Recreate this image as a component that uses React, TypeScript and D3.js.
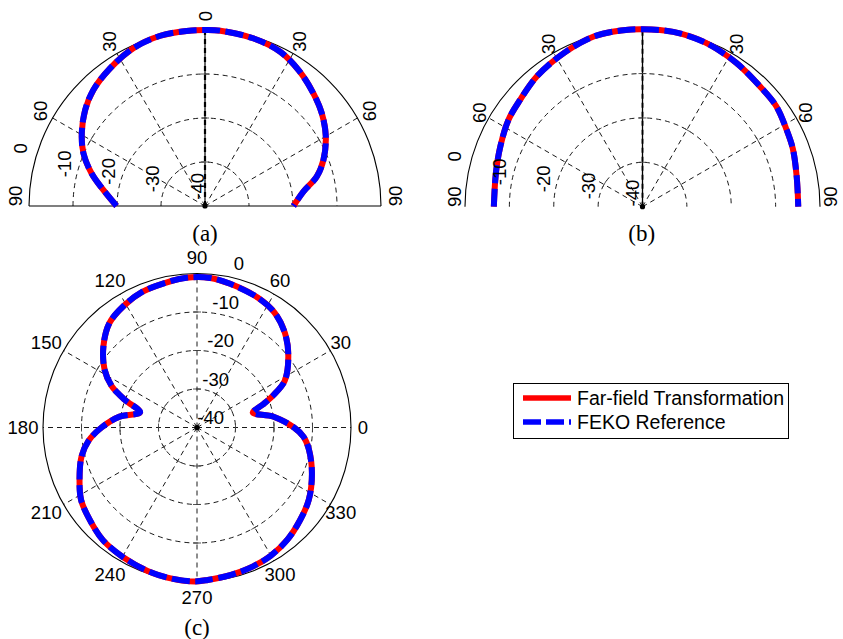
import React from 'react';
import * as d3 from 'd3';

const W = 843;
const H = 639;
const FONT = '"Liberation Sans", Arial, Helvetica, sans-serif';
const SERIF = '"Liberation Serif", "Times New Roman", serif';

// radial (dB) ticks
const rTicks = [-40, -30, -20, -10, 0];
const rTickLabels = ['-40', '-30', '-20', '-10', '0'];

// half-plane angle ticks (degrees from broadside, negative = left)
const halfTicks = [-90, -60, -30, 0, 30, 60, 90];
const halfTickLabels = ['90', '60', '30', '0', '30', '60', '90'];

// full-circle angle ticks
const fullTicks = [0, 30, 60, 90, 120, 150, 180, 210, 240, 270, 300, 330];
const fullTickLabels = ['0', '30', '60', '90', '120', '150', '180', '210', '240', '270', '300', '330'];

// panel (a) pattern
const aAngles = [-90, -81, -74, -66.6, -59.5, -51.3, -43.9, -34.6, -24.4, -14.7, -6, 0, 5, 16, 26, 35, 44, 51.5, 60, 68.7, 75.3, 81.7, 90];
const aValues = [-19.9, -16.6, -13.2, -9.9, -7.5, -5.1, -3.4, -2.0, -0.6, 0, 0, 0, 0, -0.35, -1.0, -2.6, -4.5, -6.1, -8.3, -11.1, -13.75, -17.4, -19.9];

// panel (b) pattern
const bAngles = [-90, -77, -67, -57, -49, -39, -27, -16, -7, 0, 10, 21, 33, 44, 53, 62, 69, 79, 90];
const bValues = [-6.5, -6.1, -5.2, -4.0, -3.4, -2.2, -1.1, -0.1, 0, 0, 0, -0.4, -1.3, -2.1, -2.3, -3.2, -3.7, -4.6, -4.9];

// panel (c) pattern (degrees, counter-clockwise from east)
const cAngles = [0, 8, 15, 19, 23, 28, 38, 47, 56, 65, 77, 85, 94, 102, 112, 121, 130, 139, 148, 154, 159, 165, 172, 180, 187, 194, 204, 212, 221, 230, 240, 251, 261, 269, 274, 283, 292, 300, 309, 318, 327, 338, 349, 355];
const cValues = [-14.8, -19.9, -25.0, -22.1, -18.4, -14.2, -9.9, -6.5, -4.0, -2.75, -1.7, -1.0, -1.0, -1.5, -2.0, -3.1, -4.6, -7.8, -11.7, -15.3, -19.9, -24.7, -19.7, -15.2, -11.6, -9.1, -6.6, -4.5, -3.2, -1.9, -1.25, -0.6, -0.2, 0, -0.3, -0.7, -1.1, -1.6, -2.6, -4.0, -5.4, -7.8, -10.4, -12.2];

const seriesNames = ['Far-field Transformation', 'FEKO Reference'];
const seriesColors = ['#ff0000', '#0000ff'];
const captions = ['(a)', '(b)', '(c)'];

const LW = 6;
const DASH = '18 5.5';
const GRID_DASH = '5 4';
const rad = (d: number) => (d * Math.PI) / 180;

type HalfProps = {
  cx: number; cy: number; R: number;
  angles: number[]; values: number[];
  showZero: boolean; baseline: boolean; thickAxis: boolean;
  lblR: number; rlX: number; rlY0: number; rlK: number;
  caption: string; capX: number; capY: number;
};

function HalfPolar(p: HalfProps) {
  const { cx, cy, R } = p;
  const r = d3.scaleLinear().domain([-40, 0]).range([0, R]);
  const pt = (deg: number, rr: number) => [cx + rr * Math.sin(rad(deg)), cy - rr * Math.cos(rad(deg))];
  const data = p.angles.map((a, i) => ({ a, v: p.values[i] }));
  const line = d3.lineRadial<{ a: number; v: number }>()
    .angle((d) => rad(d.a))
    .radius((d) => r(d.v))
    .curve(d3.curveCatmullRom.alpha(0.5));
  const d = line(data) || '';
  const halfArc = (rr: number) => {
    const pa = d3.path();
    pa.arc(cx, cy, rr, Math.PI, 2 * Math.PI, false);
    return pa.toString();
  };
  const spokes = halfTicks.filter((t) => Math.abs(t) < 90);
  return (
    <g>
      {rTicks.slice(1, -1).map((t) => (
        <path key={'ring' + t} d={halfArc(r(t))} fill="none" stroke="#000" strokeWidth={0.9} strokeDasharray={GRID_DASH} />
      ))}
      <path d={halfArc(r(0))} fill="none" stroke="#000" strokeWidth={1.1} />
      {p.baseline && <line x1={cx - R} x2={cx + R} y1={cy} y2={cy} stroke="#000" strokeWidth={1.1} />}
      {spokes.map((t) => {
        const [x2, y2] = pt(t, R);
        if (t === 0) {
          return (
            <g key={'sp' + t}>
              <line x1={cx} y1={cy} x2={x2} y2={y2} stroke="#000" strokeWidth={p.thickAxis ? 1.2 : 1.3} />
              <line x1={cx} y1={cy} x2={x2} y2={y2} stroke="#000" strokeWidth={p.thickAxis ? 2.2 : 1.8} strokeDasharray={GRID_DASH} />
            </g>
          );
        }
        return <line key={'sp' + t} x1={cx} y1={cy} x2={x2} y2={y2} stroke="#000" strokeWidth={0.9} strokeDasharray={GRID_DASH} />;
      })}
      {spokes.map((t) =>
        rTicks.slice(1, -1).map((v) => {
          const [x, y] = pt(t, r(v));
          const ux = Math.cos(rad(t)) * 4, uy = Math.sin(rad(t)) * 4;
          return <line key={'tk' + t + v} x1={x - ux} y1={y - uy} x2={x + ux} y2={y + uy} stroke="#444" strokeWidth={0.9} />;
        })
      )}
      <g transform={`translate(${cx},${cy})`}>
        <path d={d} fill="none" stroke={seriesColors[0]} strokeWidth={LW} />
        <path d={d} fill="none" stroke={seriesColors[1]} strokeWidth={LW} strokeDasharray={DASH} />
      </g>
      <circle cx={cx} cy={cy} r={2.6} fill="#000" />
      {halfTicks.map((t, i) => {
        if (t === 0 && !p.showZero) return null;
        let [x, y] = pt(t, p.lblR);
        y = Math.min(y, cy - 10);
        return (
          <text key={'al' + i} x={x} y={y} transform={`rotate(-90 ${x} ${y})`} textAnchor="middle" dominantBaseline="central" fontFamily={FONT} fontSize={18.5}>
            {halfTickLabels[i]}
          </text>
        );
      })}
      {rTicks.map((v, i) => {
        const rv = r(v);
        const x = cx - (rv + p.rlX);
        const y = cy - (p.rlY0 + p.rlK * rv);
        return (
          <text key={'rl' + i} x={x} y={y} transform={`rotate(-90 ${x} ${y})`} textAnchor="end" dominantBaseline="central" fontFamily={FONT} fontSize={18.5}>
            {rTickLabels[i]}
          </text>
        );
      })}
      <text x={p.capX} y={p.capY} textAnchor="middle" dominantBaseline="central" fontFamily={SERIF} fontSize={23}>
        {p.caption}
      </text>
    </g>
  );
}

function FullPolar() {
  const cx = 197, cy = 427.5, R = 154;
  const r = d3.scaleLinear().domain([-40, 0]).range([0, R]);
  const pt = (deg: number, rr: number) => [cx + rr * Math.cos(rad(deg)), cy - rr * Math.sin(rad(deg))];
  const data = cAngles.map((a, i) => ({ a, v: cValues[i] }));
  const line = d3.lineRadial<{ a: number; v: number }>()
    .angle((d) => Math.PI / 2 - rad(d.a))
    .radius((d) => r(d.v))
    .curve(d3.curveCatmullRomClosed.alpha(0.5));
  const d = line(data) || '';
  return (
    <g>
      {rTicks.slice(1, -1).map((t) => (
        <circle key={'ring' + t} cx={cx} cy={cy} r={r(t)} fill="none" stroke="#000" strokeWidth={0.9} strokeDasharray={GRID_DASH} />
      ))}
      <circle cx={cx} cy={cy} r={R} fill="none" stroke="#000" strokeWidth={1.1} />
      {fullTicks.map((t) => {
        const [x2, y2] = pt(t, R);
        return <line key={'sp' + t} x1={cx} y1={cy} x2={x2} y2={y2} stroke="#000" strokeWidth={0.9} strokeDasharray={GRID_DASH} />;
      })}
      {fullTicks.map((t) =>
        rTicks.slice(1, -1).map((v) => {
          const [x, y] = pt(t, r(v));
          const ux = Math.sin(rad(t)) * 4, uy = Math.cos(rad(t)) * 4;
          return <line key={'tk' + t + v} x1={x - ux} y1={y - uy} x2={x + ux} y2={y + uy} stroke="#444" strokeWidth={0.9} />;
        })
      )}
      <g transform={`translate(${cx},${cy})`}>
        <path d={d} fill="none" stroke={seriesColors[0]} strokeWidth={LW} />
        <path d={d} fill="none" stroke={seriesColors[1]} strokeWidth={LW} strokeDasharray={DASH} />
      </g>
      <circle cx={cx} cy={cy} r={2.6} fill="#000" />
      {fullTicks.map((t, i) => {
        const [x0, y] = pt(t, 170);
        const x = x0 - 4 * Math.abs(Math.cos(rad(t)));
        return (
          <text key={'al' + i} x={x} y={y} textAnchor="middle" dominantBaseline="central" fontFamily={FONT} fontSize={18.5}>
            {fullTickLabels[i]}
          </text>
        );
      })}
      {rTicks.map((v, i) => {
        const rv = r(v);
        return (
          <text key={'rl' + i} x={cx + 27 + 0.13 * rv} y={cy - (rv + 10)} textAnchor="end" dominantBaseline="central" fontFamily={FONT} fontSize={18.5}>
            {rTickLabels[i]}
          </text>
        );
      })}
      <text x={197} y={627} textAnchor="middle" dominantBaseline="central" fontFamily={SERIF} fontSize={23}>
        {captions[2]}
      </text>
    </g>
  );
}

function Legend() {
  const x0 = 513.5, y0 = 383.5, w = 275, h = 55;
  const rows = [398, 422];
  return (
    <g>
      <rect x={x0} y={y0} width={w} height={h} fill="#fff" stroke="#000" strokeWidth={1} />
      {seriesNames.map((n, i) => (
        <g key={n}>
          <line x1={523} x2={571} y1={rows[i]} y2={rows[i]} stroke={seriesColors[i]} strokeWidth={5.5} strokeDasharray={i === 1 ? '18 5' : undefined} />
          <text x={577} y={rows[i]} dominantBaseline="central" fontFamily={FONT} fontSize={19.5}>{n}</text>
        </g>
      ))}
    </g>
  );
}

export default function App() {
  return (
    <svg width={W} height={H} viewBox={`0 0 ${W} ${H}`} style={{ position: 'absolute', left: 0, top: 0, background: '#fff' }}>
      <rect x={0} y={0} width={W} height={H} fill="#fff" />
      <HalfPolar cx={205} cy={206} R={176} angles={aAngles} values={aValues} showZero={true} baseline={true} thickAxis={true}
        lblR={190} rlX={8} rlY0={33} rlK={0.17} caption={captions[0]} capX={205} capY={233} />
      <HalfPolar cx={642.5} cy={206.7} R={177.5} angles={bAngles} values={bValues} showZero={false} baseline={false} thickAxis={false}
        lblR={188} rlX={10} rlY0={27} rlK={0.16} caption={captions[1]} capX={641.7} capY={233} />
      <FullPolar />
      <Legend />
    </svg>
  );
}
